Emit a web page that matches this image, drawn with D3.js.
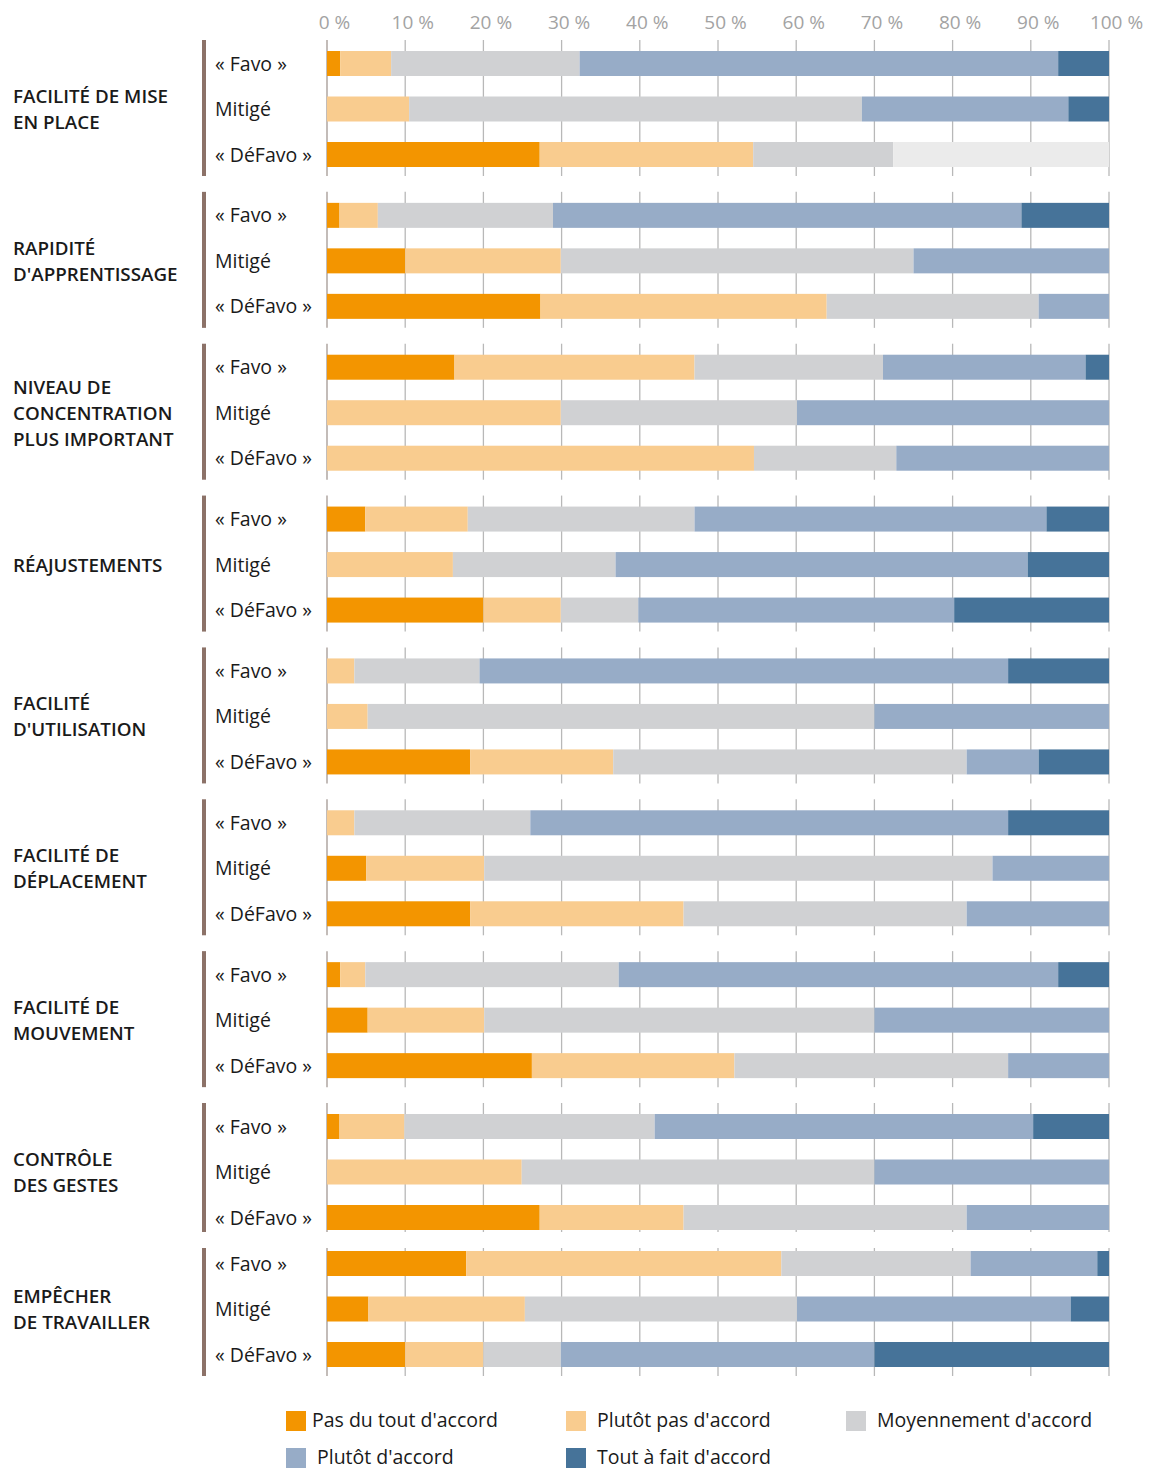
<!DOCTYPE html>
<html>
<head>
<meta charset="utf-8">
<script src="https://cdn.jsdelivr.net/npm/d3@7"></script>
<style>
  html, body { margin: 0; padding: 0; background: #ffffff; }
  svg { display: block; }
</style>
</head>
<body>
<svg id="chart" width="1160" height="1470"></svg>
<script>
// ---------------- DATA ----------------
const groupLabels = [
  ["FACILITÉ DE MISE", "EN PLACE"],
  ["RAPIDITÉ", "D'APPRENTISSAGE"],
  ["NIVEAU DE", "CONCENTRATION", "PLUS IMPORTANT"],
  ["RÉAJUSTEMENTS"],
  ["FACILITÉ", "D'UTILISATION"],
  ["FACILITÉ DE", "DÉPLACEMENT"],
  ["FACILITÉ DE", "MOUVEMENT"],
  ["CONTRÔLE", "DES GESTES"],
  ["EMPÊCHER", "DE TRAVAILLER"]
];
const profiles = ["« Favo »", "Mitigé", "« DéFavo »"];
const seriesNames = ["Pas du tout d'accord", "Plutôt pas d'accord", "Moyennement d'accord", "Plutôt d'accord", "Tout à fait d'accord"];
const tickValues = [0, 10, 20, 30, 40, 50, 60, 70, 80, 90, 100];
const tickLabels = ["0 %", "10 %", "20 %", "30 %", "40 %", "50 %", "60 %", "70 %", "80 %", "90 %", "100 %"];

// one value per row: group by group, rows « Favo », Mitigé, « DéFavo »
const pasDuTout   = [1.7, 0, 27.2,   1.6, 10.0, 27.3,   16.3, 0, 0,        4.9, 0, 20.0,     0, 0, 18.3,      0, 5.0, 18.3,     1.7, 5.2, 26.2,   1.6, 0, 27.2,     17.8, 5.3, 10.0];
const plutotPas   = [6.5, 10.5, 27.3, 4.9, 19.9, 36.6,  30.7, 29.9, 54.6,  13.1, 16.1, 9.9,  3.5, 5.2, 18.3,  3.5, 15.1, 27.3,  3.2, 14.9, 25.9, 8.3, 24.9, 18.4, 40.3, 20.0, 10.0];
const moyennement = [24.1, 57.9, 17.9, 22.4, 45.1, 27.1, 24.1, 30.2, 18.2, 29.0, 20.8, 9.9,  16.0, 64.8, 45.2, 22.5, 65.0, 36.2, 32.4, 49.9, 35.0, 32.0, 45.1, 36.2, 24.2, 34.8, 9.9];
const plutot      = [61.2, 26.4, 0,  59.9, 25.0, 9.0,   25.9, 39.9, 27.2,  45.0, 52.7, 40.4, 67.6, 30.0, 9.2, 61.1, 14.9, 18.2, 56.2, 30.0, 12.9, 48.4, 30.0, 18.2, 16.2, 35.0, 40.1];
const toutAFait   = [6.5, 5.2, 0,    11.2, 0, 0,        3.0, 0, 0,         8.0, 10.4, 19.8,  12.9, 0, 9.0,     12.9, 0, 0,       6.5, 0, 0,        9.7, 0, 0,        1.5, 4.9, 30.0];
const sansReponse = [0, 0, 27.6,     0, 0, 0,           0, 0, 0,           0, 0, 0,          0, 0, 0,         0, 0, 0,          0, 0, 0,          0, 0, 0,          0, 0, 0];

const colors = ["#F39500", "#F9CC8F", "#D0D1D3", "#97ACC7", "#467399", "#EBEBEB"];

// ---------------- BUILD TABLE ----------------
const keys = ["pas", "plutotPas", "moyen", "plutot", "tout", "sr"];
const rows = [];
groupLabels.forEach((g, gi) => {
  profiles.forEach((p, pi) => {
    const i = gi * 3 + pi;
    rows.push({
      group: gi, profile: pi, label: p,
      pas: pasDuTout[i], plutotPas: plutotPas[i], moyen: moyennement[i],
      plutot: plutot[i], tout: toutAFait[i], sr: sansReponse[i]
    });
  });
});
const stacked = d3.stack().keys(keys)(rows);

// ---------------- LAYOUT ----------------
const svg = d3.select("#chart");
const x = d3.scaleLinear().domain([0, 100]).range([327, 1109]);
const groupTop = d3.scaleLinear().domain([0, 7]).range([40, 1103]);
const gTop = gi => gi < 8 ? groupTop(gi) : 1240;
const groupH = 136;
// extent of the brown bar / gridlines of each group
const spanTop = gi => gTop(gi) + (gi === 8 ? 8 : 0);
const spanBottom = gi => gTop(gi) + groupH - (gi === 7 ? 7 : 0);
const barH = 25;
const rowCenter = d3.scaleLinear().domain([0, 2]).range([23.5, 114.5]);
const rowCY = d => gTop(d.group) + rowCenter(d.profile);
const FONT = "'Open Sans', 'Noto Sans', sans-serif";

// gridlines per group
const gridG = svg.append("g");
groupLabels.forEach((g, gi) => {
  gridG.selectAll(null).data(tickValues).enter().append("line")
    .attr("x1", d => x(d)).attr("x2", d => x(d))
    .attr("y1", spanTop(gi)).attr("y2", spanBottom(gi))
    .attr("stroke", d => d === 0 ? "#a39893" : "#b8b8b8")
    .attr("stroke-width", 1.3);
});

// top axis
const axis = d3.axisTop(x).tickValues(tickValues).tickFormat((d, i) => tickLabels[i]).tickSize(0).tickPadding(0);
const axG = svg.append("g").attr("transform", "translate(7,29)").call(axis);
axG.select(".domain").remove();
axG.selectAll("text")
  .attr("dy", 0)
  .attr("fill", "#a3a3a3")
  .style("font-family", FONT)
  .style("font-size", "19px");

// bars
svg.append("g").selectAll("g").data(stacked).enter().append("g")
  .attr("fill", (d, i) => colors[i])
  .selectAll("rect").data(d => d).enter().append("rect")
  .attr("x", d => x(d[0]))
  .attr("width", d => Math.max(0, x(d[1]) - x(d[0])))
  .attr("y", d => rowCY(d.data) - barH / 2)
  .attr("height", barH);

// brown group bars
svg.append("g").selectAll("rect").data(groupLabels).enter().append("rect")
  .attr("x", 202).attr("width", 4)
  .attr("y", (d, i) => spanTop(i)).attr("height", (d, i) => spanBottom(i) - spanTop(i))
  .attr("fill", "#8C7268");

// row labels
svg.append("g").selectAll("text").data(rows).enter().append("text")
  .attr("x", 215)
  .attr("y", d => rowCY(d) + 7)
  .text(d => d.label)
  .attr("fill", "#1a1a1a")
  .style("font-family", FONT)
  .style("font-size", "19.5px");

// group labels
const lineH = 26;
svg.append("g").selectAll("text").data(groupLabels).enter().append("text")
  .attr("x", 13)
  .attr("y", (d, i) => gTop(i) + rowCenter(1) + 7 - (d.length - 1) * lineH / 2)
  .attr("fill", "#1a1a1a")
  .style("font-family", FONT)
  .style("font-size", "18.8px")
  .style("font-weight", 600)
  .each(function (d) {
    d3.select(this).selectAll("tspan").data(d).enter().append("tspan")
      .attr("x", 13).attr("dy", (t, j) => j === 0 ? 0 : lineH).text(t => t);
  });

// legend
const legendPos = [[286, 1411], [566, 1411], [846, 1411], [286, 1448], [566, 1448]];
const lg = svg.append("g").selectAll("g").data(seriesNames).enter().append("g")
  .attr("transform", (d, i) => `translate(${legendPos[i][0]},${legendPos[i][1]})`);
lg.append("rect").attr("width", 20).attr("height", 20).attr("fill", (d, i) => colors[i]);
lg.append("text").attr("x", (d, i) => i === 0 ? 26 : 31).attr("y", 16)
  .text(d => d)
  .attr("fill", "#1a1a1a")
  .style("font-family", FONT)
  .style("font-size", "19.5px");
</script>
</body>
</html>
